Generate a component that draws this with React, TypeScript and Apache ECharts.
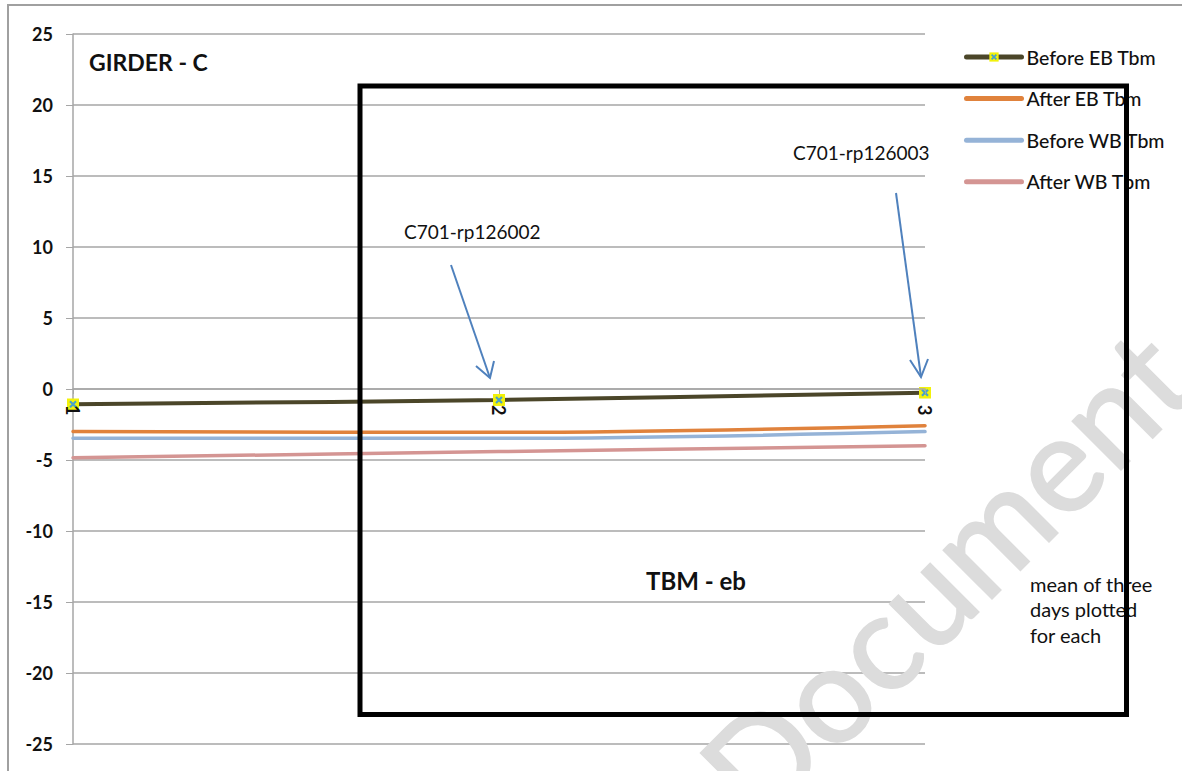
import React, { useEffect, useRef } from "react";
import * as echarts from "echarts";

const categories = ["1", "2", "3"];
const beforeEB = [-1.08, -0.77, -0.26];
const afterEB = [-3.0, -3.05, -2.58];
const beforeWB = [-3.47, -3.47, -3.0];
const afterWB = [-4.84, -4.41, -3.99];
const seriesNames = ["Before EB Tbm", "After EB Tbm", "Before WB Tbm", "After WB Tbm"];
const seriesColors = ["#4b4629", "#e0823c", "#95b3d7", "#d49593"];
const yMin = -25;
const yMax = 25;
const yStep = 5;

const markerSvg =
  "<svg xmlns='http://www.w3.org/2000/svg' width='12' height='12' viewBox='0 0 12 12'>" +
  "<rect x='0' y='0' width='12' height='12' fill='#f2f20a'/>" +
  "<path d='M3 3L9 9M9 3L3 9' stroke='#4aa3c8' stroke-width='2.2'/></svg>";
const markerSymbol = "image://data:image/svg+xml;charset=utf-8," + encodeURIComponent(markerSvg);

const FONT = "Lato, 'Noto Sans', sans-serif";

export default function App() {
  const ref = useRef<HTMLDivElement>(null);
  useEffect(() => {
    if (!ref.current) return;
    const chart = echarts.init(ref.current, null, { renderer: "svg" });
    const lineSeries = (i: number, data: number[], width: number, marker: boolean) => ({
      name: seriesNames[i],
      type: "line",
      data,
      smooth: 0.35,
      symbol: marker ? markerSymbol : "none",
      symbolSize: 12,
      showSymbol: marker,
      lineStyle: { color: seriesColors[i], width, cap: "round" },
      itemStyle: { color: seriesColors[i] },
      z: marker ? 5 : 3,
    });
    const gridTop = 34;
    const gridBottom = 27;
    const plotH = 771 - gridTop - gridBottom;
    const zeroOffset = -plotH * (0 - yMin) / (yMax - yMin);
    chart.setOption({
      animation: false,
      backgroundColor: "#ffffff",
      textStyle: { fontFamily: FONT },
      grid: { left: 73, right: 257, top: gridTop, bottom: gridBottom, containLabel: false },
      legend: {
        orient: "vertical",
        left: 959,
        top: 42,
        itemWidth: 55,
        itemHeight: 12,
        itemGap: 21.6,
        data: seriesNames.map((n, i) =>
          i === 0
            ? { name: n, lineStyle: { width: 5 } }
            : { name: n, lineStyle: { width: 5, color: seriesColors[i] }, itemStyle: { opacity: 0 } }
        ),
        textStyle: { fontFamily: FONT, fontSize: 19.5, fontWeight: 500, color: "#111", lineHeight: 20 },
      },
      xAxis: {
        type: "category",
        data: categories,
        boundaryGap: false,
        offset: zeroOffset,
        z: 10,
        axisLine: { onZero: false, lineStyle: { color: "#a6a6a6", width: 1.5 } },
        axisTick: { show: true, length: 5, lineStyle: { color: "#a6a6a6" } },
        axisLabel: { rotate: -90, fontSize: 18, fontWeight: "bold", color: "#111", margin: 16, fontFamily: FONT },
        splitLine: { show: false },
      },
      yAxis: {
        type: "value",
        min: yMin,
        max: yMax,
        interval: yStep,
        axisLine: { show: true, lineStyle: { color: "#a6a6a6", width: 1.5 } },
        axisTick: { show: true, length: 7, lineStyle: { color: "#a6a6a6" } },
        axisLabel: { fontSize: 18, fontWeight: "bold", color: "#111", margin: 20, fontFamily: FONT },
        splitLine: { show: true, lineStyle: { color: "#a6a6a6", width: 1.5 } },
      },
      series: [
        lineSeries(0, beforeEB, 4, true),
        lineSeries(1, afterEB, 3.5, false),
        lineSeries(2, beforeWB, 3.5, false),
        lineSeries(3, afterWB, 3.5, false),
      ],
      graphic: [
        {
          type: "rect",
          z: 0,
          silent: true,
          shape: { x: 8, y: 5, width: 1300, height: 900 },
          style: { fill: "none", stroke: "#a0a0a0", lineWidth: 2 },
        },
        {
          type: "text",
          z: 1,
          silent: true,
          x: 944,
          y: 573,
          rotation: Math.PI / 4,
          style: {
            text: "Document",
            fontFamily: FONT,
            fontSize: 135,
            fill: "#dcdcdc",
            stroke: "#dcdcdc",
            lineWidth: 2,
            align: "center",
            verticalAlign: "middle",
          },
        },
        {
          type: "text",
          z: 50,
          x: 89,
          y: 62,
          style: { text: "GIRDER - C", fontFamily: FONT, fontSize: 23, fontWeight: "bold", fill: "#111", verticalAlign: "middle" },
        },
        {
          type: "text",
          z: 50,
          x: 404,
          y: 231,
          style: { text: "C701-rp126002", fontFamily: FONT, fontSize: 19, fill: "#111", verticalAlign: "middle" },
        },
        {
          type: "text",
          z: 50,
          x: 793,
          y: 152,
          style: { text: "C701-rp126003", fontFamily: FONT, fontSize: 19, fill: "#111", verticalAlign: "middle" },
        },
        {
          type: "text",
          z: 50,
          x: 646,
          y: 580,
          style: { text: "TBM - eb", fontFamily: FONT, fontSize: 24, fontWeight: "bold", fill: "#111", verticalAlign: "middle" },
        },
        {
          type: "text",
          z: 50,
          x: 1030,
          y: 571,
          style: {
            text: "mean of three\ndays plotted\nfor each",
            fontFamily: FONT,
            fontSize: 20,
            lineHeight: 25.5,
            fill: "#111",
            verticalAlign: "top",
          },
        },
        {
          type: "line",
          z: 60,
          shape: { x1: 451, y1: 265, x2: 490, y2: 378 },
          style: { stroke: "#4f81bd", lineWidth: 2 },
        },
        {
          type: "polyline",
          z: 60,
          shape: { points: [[476, 366], [490, 378], [494, 361]] },
          style: { stroke: "#4f81bd", lineWidth: 2, fill: "none" },
        },
        {
          type: "line",
          z: 60,
          shape: { x1: 896, y1: 193, x2: 921, y2: 377 },
          style: { stroke: "#4f81bd", lineWidth: 2 },
        },
        {
          type: "polyline",
          z: 60,
          shape: { points: [[910, 360], [921, 377], [928, 359]] },
          style: { stroke: "#4f81bd", lineWidth: 2, fill: "none" },
        },
        {
          type: "rect",
          z: 100,
          silent: true,
          shape: { x: 360, y: 86, width: 766.5, height: 628.5 },
          style: { fill: "none", stroke: "#000000", lineWidth: 5 },
        },
      ],
    });
    return () => chart.dispose();
  }, []);
  return (
    <div
      ref={ref}
      style={{ position: "absolute", left: 0, top: 0, width: 1182, height: 771, background: "#fff" }}
    />
  );
}
